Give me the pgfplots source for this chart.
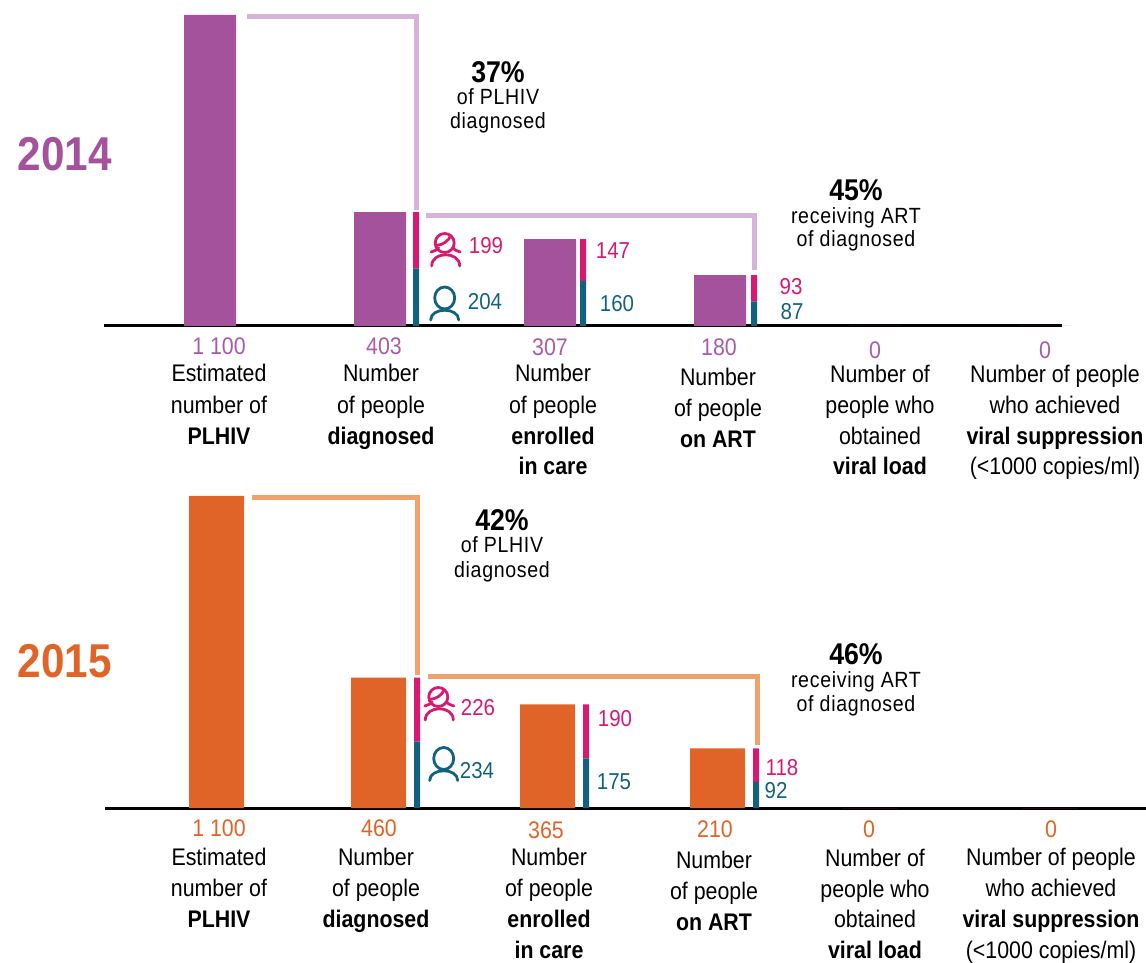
\documentclass[border=0pt]{standalone}
\usepackage{pgfplots}
\pgfplotsset{compat=1.18}
\usepackage{fontspec}
\setmainfont[FakeStretch=0.89]{Liberation Sans}
\definecolor{cpur}{HTML}{A4529C}
\definecolor{cpurt}{HTML}{A85CA8}
\definecolor{cpurl}{HTML}{D6B3D8}
\definecolor{cora}{HTML}{E06427}
\definecolor{coral}{HTML}{F0A26E}
\definecolor{cpink}{HTML}{D61A70}
\definecolor{cteal}{HTML}{12627F}
\pgfplotsset{panel/.style={axis lines=none, scale only axis, width=1146pt, xmin=0, xmax=1146, ymin=0, ymax=1100, clip=false, anchor=south west}}
% text helpers: x, y (pixels from top), text
\newcommand{\Lb}[4][black]{\node[anchor=base,inner sep=0pt,text=#1,font=\fontsize{24}{24}\selectfont] at (#2,{962-#3-8.5}) {#4};}
\newcommand{\Nm}[4][black]{\node[anchor=base,inner sep=0pt,text=#1,font=\fontsize{24}{24}\selectfont] at (#2,{962-#3-8.5}) {#4};}
\newcommand{\Sm}[3]{\node[anchor=base,inner sep=0pt,font=\fontsize{22}{23}\selectfont\addfontfeature{LetterSpace=3}] at (#1,{962-#2-7.5}) {#3};}
\newcommand{\Pc}[3]{\node[anchor=base,inner sep=0pt,font=\fontsize{30}{30}\selectfont\bfseries] at (#1,{962-#2-10.5}) {#3};}
\newcommand{\Sx}[4]{\node[anchor=base,inner sep=0pt,text=#1,font=\fontsize{23}{23}\selectfont] at (#2,{962-#3-8}) {#4};}
\newcommand{\Female}[2]{\begin{scope}[shift={(#1,{962-#2})},draw=cpink,line width=2.8pt,line cap=round]
 \draw (-1,7) circle (9.5);
 \draw (-14,-16) .. controls (-14,-1) and (14,-1) .. (14,-16);
 \draw (-9.5,4.5) .. controls (-3,5) and (3,9) .. (5,14.5);
 \draw (-14.5,-2) .. controls (-11,-1) and (-9,0) .. (-7,2);
 \draw (14.5,-2) .. controls (11,-1) and (9,0) .. (7,2);
\end{scope}}
\newcommand{\Male}[2]{\begin{scope}[shift={(#1,{962-#2})},draw=cteal,line width=2.8pt,line cap=round]
 \draw (0,6) ellipse (10 and 11);
 \draw (-14,-16) .. controls (-14,-3) and (14,-3) .. (14,-16);
\end{scope}}
\begin{document}
\begin{tikzpicture}[x=1pt,y=1pt]
\useasboundingbox (0,0) rectangle (1146,962);
% ---------- 2014 ----------
\begin{axis}[panel, height=311pt, at={(0pt,636pt)}]
\addplot[black, line width=3pt] coordinates {(104,0) (1062,0)};
\addplot[ybar, bar width=52pt, bar shift=0pt, fill=cpur, draw=none] coordinates {(210,1100) (380,403) (550,307) (720,180) (875,0) (1045,0)};
\addplot[cpurl, line width=5pt, line join=miter] coordinates {(247,1093) (416.5,1093) (416.5,410)};
\addplot[cpurl, line width=5pt, line join=miter] coordinates {(426,390) (754,390) (754,198)};
\end{axis}
\begin{axis}[panel, height=311pt, at={(0pt,636pt)}, ybar stacked, bar width=6pt]
\addplot[fill=cteal, draw=none] coordinates {(416,204) (583,160) (754,87)};
\addplot[fill=cpink, draw=none] coordinates {(416,199) (583,147) (754,93)};
\end{axis}
% ---------- 2015 ----------
\begin{axis}[panel, height=312pt, at={(0pt,154pt)}]
\addplot[black, line width=3pt] coordinates {(105,0) (1146,0)};
\addplot[ybar, bar width=55pt, bar shift=0pt, fill=cora, draw=none] coordinates {(216.5,1100) (378.5,460) (547.5,365) (717.5,210) (870,0) (1050,0)};
\addplot[coral, line width=5pt, line join=miter] coordinates {(252,1093) (417.5,1093) (417.5,469)};
\addplot[coral, line width=5pt, line join=miter] coordinates {(428,462) (757,462) (757,222)};
\end{axis}
\begin{axis}[panel, height=312pt, at={(0pt,154pt)}, ybar stacked, bar width=6pt]
\addplot[fill=cteal, draw=none] coordinates {(417,234) (586,175) (756,92)};
\addplot[fill=cpink, draw=none] coordinates {(417,226) (586,190) (756,118)};
\end{axis}
% years
\node[anchor=base,inner sep=0pt,text=cpur,font=\fontsize{47.5}{48}\selectfont\bfseries] at (65,{962-153-17.5}) {2014};
\node[anchor=base,inner sep=0pt,text=cora,font=\fontsize{47.5}{48}\selectfont\bfseries] at (65,{962-660-17.5}) {2015};
% values 2014
\Nm[cpurt]{219}{346}{1 100}\Nm[cpurt]{384}{346}{403}\Nm[cpurt]{550}{347}{307}\Nm[cpurt]{719}{347}{180}\Nm[cpurt]{875}{350}{0}\Nm[cpurt]{1045}{350}{0}
% labels 2014
\Lb{219}{373}{Estimated}\Lb{219}{405}{number of}\Lb{219}{436}{\textbf{PLHIV}}
\Lb{381}{373}{Number}\Lb{381}{405}{of people}\Lb{381}{436}{\textbf{diagnosed}}
\Lb{553}{373}{Number}\Lb{553}{405}{of people}\Lb{553}{436}{\textbf{enrolled}}\Lb{553}{466}{\textbf{in care}}
\Lb{718}{377}{Number}\Lb{718}{408}{of people}\Lb{718}{439}{\textbf{on ART}}
\Lb{880}{374}{Number of}\Lb{880}{405}{people who}\Lb{880}{436}{obtained}\Lb{880}{466}{\textbf{viral load}}
\Lb{1055}{374}{Number of people}\Lb{1055}{405}{who achieved}\Lb{1055}{436}{\textbf{viral suppression}}\Lb{1055}{466}{(<1000 copies/ml)}
% percent 2014
\Pc{498}{72}{37\%}\Sm{498}{97}{of PLHIV}\Sm{498}{121}{diagnosed}
\Pc{856}{190}{45\%}\Sm{856}{216}{receiving ART}\Sm{856}{239}{of diagnosed}
% sex 2014
\Sx{cpink}{486}{246}{199}\Sx{cteal}{485}{302}{204}\Sx{cpink}{613}{251}{147}\Sx{cteal}{617}{304}{160}\Sx{cpink}{791}{287}{93}\Sx{cteal}{792}{312}{87}
\Female{445.7}{250}\Male{444.7}{304}
% values 2015
\Nm[cora]{219}{828}{1 100}\Nm[cora]{379}{828}{460}\Nm[cora]{546}{830}{365}\Nm[cora]{715}{829}{210}\Nm[cora]{869}{829}{0}\Nm[cora]{1051}{829}{0}
% labels 2015
\Lb{219}{857}{Estimated}\Lb{219}{888}{number of}\Lb{219}{919}{\textbf{PLHIV}}
\Lb{376}{857}{Number}\Lb{376}{888}{of people}\Lb{376}{919}{\textbf{diagnosed}}
\Lb{549}{857}{Number}\Lb{549}{888}{of people}\Lb{549}{919}{\textbf{enrolled}}\Lb{549}{950}{\textbf{in care}}
\Lb{714}{860}{Number}\Lb{714}{891}{of people}\Lb{714}{922}{\textbf{on ART}}
\Lb{875}{858}{Number of}\Lb{875}{889}{people who}\Lb{875}{919}{obtained}\Lb{875}{950}{\textbf{viral load}}
\Lb{1051}{857}{Number of people}\Lb{1051}{888}{who achieved}\Lb{1051}{919}{\textbf{viral suppression}}\Lb{1051}{950}{(<1000 copies/ml)}
% percent 2015
\Pc{502}{520}{42\%}\Sm{502}{545}{of PLHIV}\Sm{502}{570}{diagnosed}
\Pc{856}{654}{46\%}\Sm{856}{680}{receiving ART}\Sm{856}{704}{of diagnosed}
% sex 2015
\Sx{cpink}{478}{707}{226}\Sx{cteal}{477}{770}{234}\Sx{cpink}{615}{718}{190}\Sx{cteal}{614}{781}{175}\Sx{cpink}{782}{767}{118}\Sx{cteal}{776}{790}{92}
\Female{439.3}{704}\Male{443.7}{764.5}
\end{tikzpicture}
\end{document}
